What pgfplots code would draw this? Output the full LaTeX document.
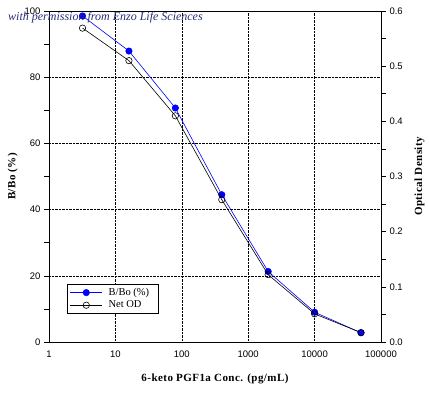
\documentclass[border=0pt]{standalone}
\usepackage{fontspec}
\setmainfont{Liberation Serif}
\setsansfont{Liberation Sans}
\usepackage{pgfplots}
\pgfplotsset{compat=1.18}
\definecolor{wm}{RGB}{40,45,120}
\begin{document}
\begin{tikzpicture}
\pgfplotsset{
  common/.style={
    scale only axis, width=332pt, height=331pt,
    xmin=1, xmax=100000,
    tick align=outside, major tick length=5pt, minor tick length=5pt,
    ticklabel style={font=\sffamily\fontsize{9.5}{10}\selectfont},
    /pgf/number format/assume math mode=true,
    label style={font=\bfseries\fontsize{11}{12}\selectfont\addfontfeatures{LetterSpace=4}},
    axis line style={line width=0.8pt},
    tick style={black, line width=0.6pt},
  }
}
\begin{semilogxaxis}[common, name=main,
  ymin=0, ymax=100,
  axis y line*=left,
  xtick={1,10,100,1000,10000,100000},
  xticklabels={1,10,100,1000,10000,100000},
  xminorticks=false,
  x tick style={draw=none},
  ytick={0,20,40,60,80,100},
  minor ytick={10,30,50,70,90},
  grid=major, major grid style={black, densely dotted, line width=0.6pt},
  xlabel={6-keto PGF1a Conc. (pg/mL)},
  xlabel style={yshift=-10pt},
  ylabel={B/Bo (\%)},
]
\addplot[blue, line width=0.6pt, mark=*, mark size=3.2pt, mark options={fill=blue, draw=blue}]
coordinates {(3.2,98.5) (16,87.9) (80,70.7) (400,44.5) (2000,21.3) (10000,9.0) (50000,2.8)};
\end{semilogxaxis}
\begin{semilogxaxis}[common,
  ymin=0, ymax=0.6,
  axis y line*=right, axis x line=none,
  ytick={0,0.1,0.2,0.3,0.4,0.5,0.6},
  minor ytick={0.05,0.15,0.25,0.35,0.45,0.55},
  yticklabel style={/pgf/number format/.cd, fixed, fixed zerofill, precision=1},
  ylabel={Optical Density},
  ylabel style={yshift=-5pt},
  legend style={at={(rel axis cs:0.053,0.085)}, anchor=south west, draw=black, line width=0.8pt,
    font=\fontsize{10.5}{11}\selectfont, cells={anchor=west}, row sep=0pt, inner xsep=3pt, inner ysep=2pt,
    nodes={inner xsep=6pt}},
  legend image code/.code={\draw[#1, mark repeat=2, mark phase=2] plot coordinates {(0pt,0pt) (16pt,0pt) (32pt,0pt)};},
]
\addlegendimage{blue, line width=0.6pt, mark=*, mark size=3.2pt, mark options={fill=blue, draw=blue}}
\addlegendentry{B/Bo (\%)}
\addplot[black, line width=0.6pt, mark=o, mark size=3.2pt, mark options={fill=white, draw=black}]
coordinates {(3.2,0.569) (16,0.510) (80,0.410) (400,0.258) (2000,0.122) (10000,0.051) (50000,0.017)};
\addlegendentry{Net OD}
\end{semilogxaxis}
\node[anchor=west, font=\itshape\fontsize{12}{13}\selectfont, text=wm, inner sep=0pt] at ([xshift=-41pt,yshift=-7pt]main.north west) {with permission from Enzo Life Sciences};
\pgfresetboundingbox
\path ([xshift=-49pt,yshift=-55pt]main.south west) rectangle ([xshift=48pt,yshift=11pt]main.north east);
\end{tikzpicture}
\end{document}
